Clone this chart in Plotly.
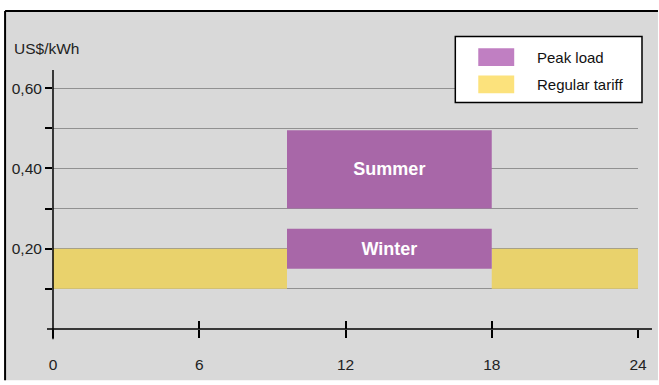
import plotly.graph_objects as go

# Electricity tariff by hour of day (US$/kWh)
hour_ticks = [0, 6, 12, 18, 24]
price_ticks = [0.1, 0.2, 0.3, 0.4, 0.5, 0.6]
price_tick_text = ["", "0,20", "", "0,40", "", "0,60"]

# Regular tariff blocks (before and after the peak window)
regular_start = [0, 18]
regular_end = [9.6, 24]
regular_low = [0.10, 0.10]
regular_high = [0.20, 0.20]

# Peak-load blocks by season
seasons = ["Summer", "Winter"]
peak_start = [9.6, 9.6]
peak_end = [18, 18]
peak_low = [0.30, 0.15]
peak_high = [0.495, 0.25]

legend_names = ["Peak load", "Regular tariff"]

BG = "#d9d9d9"
PURPLE_BAR = "#a867a8"
YELLOW_BAR = "#e9d26c"
PURPLE_KEY = "#c07fc2"
YELLOW_KEY = "#fce27c"
FONT = "Liberation Sans, Arial, sans-serif"

W, H = 659, 385
ML, MR, MT, MB = 53, 20, 70, 52
PW, PH = W - ML - MR, H - MT - MB


def px_x(p):
    return (p - ML) / PW


def px_y(p):
    return (H - MB - p) / PH


def blocks(start, end, low, high):
    centers = [(a + b) / 2 for a, b in zip(start, end)]
    widths = [b - a for a, b in zip(start, end)]
    heights = [h - l for l, h in zip(low, high)]
    return centers, widths, heights


fig = go.Figure()

c, w, h = blocks(regular_start, regular_end, regular_low, regular_high)
fig.add_trace(go.Bar(
    x=c, y=h, base=regular_low, width=w, name=legend_names[1],
    marker=dict(color=YELLOW_BAR, line=dict(width=0)), showlegend=False,
))

c, w, h = blocks(peak_start, peak_end, peak_low, peak_high)
fig.add_trace(go.Bar(
    x=c, y=h, base=peak_low, width=w, name=legend_names[0],
    marker=dict(color=PURPLE_BAR, line=dict(width=0)),
    text=seasons, textposition="inside", insidetextanchor="middle",
    textangle=0, constraintext="none",
    textfont=dict(family=FONT, size=18, color="white", weight="bold"),
    showlegend=False,
))

# empty trace so the overlaid tick axis is drawn
fig.add_trace(go.Scatter(x=[], y=[], xaxis="x2", showlegend=False))

shapes = [
    # chart panel: grey fill, black border along the top and left edges
    dict(type="rect", xref="paper", yref="paper",
         x0=px_x(5), x1=px_x(W), y0=px_y(H), y1=px_y(10),
         fillcolor=BG, line=dict(width=0), layer="below"),
    dict(type="line", xref="paper", yref="paper",
         x0=px_x(5), x1=px_x(W), y0=px_y(10), y1=px_y(10),
         line=dict(color="black", width=2), layer="below"),
    dict(type="line", xref="paper", yref="paper",
         x0=px_x(5), x1=px_x(5), y0=px_y(10), y1=px_y(H),
         line=dict(color="black", width=2), layer="below"),
    # axis lines, overhanging the origin slightly
    dict(type="line", xref="x domain", yref="y domain",
         x0=-6 / PW, x1=1 + 14 / PW, y0=0, y1=0,
         line=dict(color="black", width=1.5), layer="above"),
    dict(type="line", xref="x domain", yref="y domain",
         x0=0, x1=0, y0=-10.5 / PH, y1=1,
         line=dict(color="black", width=1.5), layer="above"),
    # legend box
    dict(type="rect", xref="paper", yref="paper",
         x0=px_x(456), x1=px_x(643), y0=px_y(103), y1=px_y(36),
         fillcolor="white", line=dict(color="black", width=1.5), layer="above"),
]

annotations = [
    dict(text="US$/kWh", xref="paper", yref="paper", x=px_x(12), y=px_y(48),
         xanchor="left", yanchor="middle", showarrow=False,
         font=dict(family=FONT, size=15.5, color="#222")),
]

key_colors = [PURPLE_KEY, YELLOW_KEY]
key_tops = [48, 75.5]
for name, col, top in zip(legend_names, key_colors, key_tops):
    shapes.append(dict(type="rect", xref="paper", yref="paper",
                       x0=px_x(479), x1=px_x(515), y0=px_y(top + 18), y1=px_y(top),
                       fillcolor=col, line=dict(width=0), layer="above"))
    annotations.append(dict(text=name, xref="paper", yref="paper",
                            x=px_x(536), y=px_y(top + 9), xanchor="left", yanchor="middle",
                            showarrow=False, font=dict(family=FONT, size=15, color="#111")))

fig.update_layout(
    width=W, height=H,
    margin=dict(l=ML, r=MR, t=MT, b=MB, pad=0),
    paper_bgcolor="white",
    plot_bgcolor="rgba(0,0,0,0)",
    barmode="overlay",
    showlegend=False,
    shapes=shapes,
    annotations=annotations,
    xaxis=dict(
        range=[0, 24], tickvals=hour_ticks, ticks="outside", ticklen=8,
        tickwidth=1.5, tickcolor="black", showgrid=False, zeroline=False,
        showline=False, ticklabelstandoff=13,
        tickfont=dict(family=FONT, size=15.5, color="#222"), layer="above traces",
    ),
    xaxis2=dict(
        range=[0, 24], overlaying="x", anchor="y", side="bottom",
        tickvals=hour_ticks, ticks="inside", ticklen=8, tickwidth=1.5,
        tickcolor="black", showticklabels=False, showgrid=False,
        zeroline=False, showline=False, layer="above traces",
    ),
    yaxis=dict(
        range=[0, PH / 407.5], tickvals=price_ticks, ticktext=price_tick_text,
        ticks="outside", ticklen=7, tickwidth=1.5, tickcolor="black",
        showgrid=True, gridcolor="rgba(0,0,0,0.33)", gridwidth=1,
        zeroline=False, showline=False,
        tickfont=dict(family=FONT, size=15.5, color="#222"), layer="above traces",
    ),
)

# pin the figure to the top-left corner of the page, with nothing overflowing
page_css = (
    "document.documentElement.style.overflow='hidden';"
    "document.body.style.margin='0';"
    "document.body.style.overflow='hidden';"
    "var d=document.getElementById('{plot_id}');"
    "d.parentNode.style.position='fixed';d.parentNode.style.left='0';"
    "d.parentNode.style.top='0';"
)

fig.write_html("out.html", post_script=page_css, config={"displayModeBar": False})
